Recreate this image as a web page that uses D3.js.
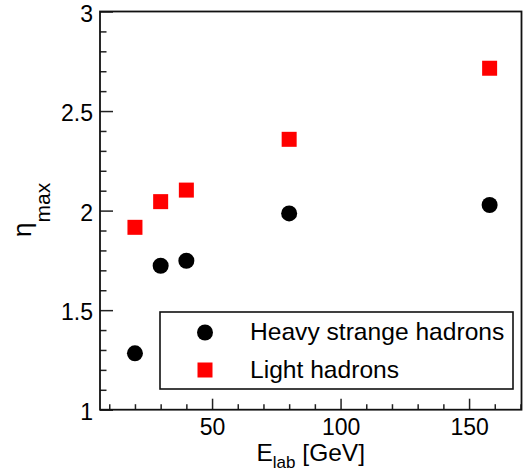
<!DOCTYPE html>
<html>
<head>
<meta charset="utf-8">
<script src="https://cdn.jsdelivr.net/npm/d3@7"></script>
<style>
  body { margin: 0; background: #fff; }
  svg { display: block; }
  text { font-family: "Liberation Sans", Arial, Helvetica, sans-serif; fill: #000; }
</style>
</head>
<body>
<svg id="chart" width="526" height="472"></svg>
<script>
// Beam energies (GeV) and the maximum rapidity for each hadron group
const energies = [20, 30, 40, 80, 158];
const heavyStrange = [1.283, 1.723, 1.748, 1.986, 2.028];
const lightHadrons = [1.916, 2.045, 2.103, 2.358, 2.715];

const seriesNames = ["Heavy strange hadrons", "Light hadrons"];

const xMajorTicks = [50, 100, 150];
const xMajorLabels = ["50", "100", "150"];
const xMinorTicks = [10, 20, 30, 40, 60, 70, 80, 90, 110, 120, 130, 140, 160, 170];

const yMajorTicks = [1, 1.5, 2, 2.5, 3];
const yMajorLabels = ["1", "1.5", "2", "2.5", "3"];
const yMinorTicks = [1.1, 1.2, 1.3, 1.4, 1.6, 1.7, 1.8, 1.9, 2.1, 2.2, 2.3, 2.4, 2.6, 2.7, 2.8, 2.9];

const svg = d3.select("#chart");

const frame = { left: 100, top: 11.5, right: 521.5, bottom: 409.7 };

const x = d3.scaleLinear().domain([6.4, 170.4]).range([frame.left, frame.right]);
const y = d3.scaleLinear().domain([1, 3]).range([frame.bottom, frame.top]);

const tickFont = 23;

// ---- x axis: minor ticks, then major ticks with labels
svg.append("g")
  .attr("transform", `translate(0,${frame.bottom})`)
  .call(d3.axisBottom(x).tickValues(xMinorTicks).tickSize(-5.5).tickFormat(""))
  .call(g => g.select(".domain").remove())
  .call(g => g.selectAll("line").attr("stroke", "#222").attr("stroke-width", 1.5));

svg.append("g")
  .attr("transform", `translate(0,${frame.bottom})`)
  .call(d3.axisBottom(x).tickValues(xMajorTicks).tickSize(-11).tickPadding(9)
    .tickFormat((d, i) => xMajorLabels[i]))
  .call(g => g.select(".domain").remove())
  .call(g => g.selectAll("line").attr("stroke", "#222").attr("stroke-width", 1.5))
  .call(g => g.selectAll("text").attr("font-size", tickFont)
    .attr("font-family", "'Liberation Sans', Arial, sans-serif").attr("fill", "#000"));

// ---- y axis: minor ticks, then major ticks with labels
svg.append("g")
  .attr("transform", `translate(${frame.left},0)`)
  .call(d3.axisLeft(y).tickValues(yMinorTicks).tickSize(-6.5).tickFormat(""))
  .call(g => g.select(".domain").remove())
  .call(g => g.selectAll("line").attr("stroke", "#222").attr("stroke-width", 1.5));

svg.append("g")
  .attr("transform", `translate(${frame.left},0)`)
  .call(d3.axisLeft(y).tickValues(yMajorTicks).tickSize(-13).tickPadding(7)
    .tickFormat((d, i) => yMajorLabels[i]))
  .call(g => g.select(".domain").remove())
  .call(g => g.selectAll("line").attr("stroke", "#222").attr("stroke-width", 1.5))
  .call(g => g.selectAll("text").attr("font-size", tickFont).attr("dy", "0.42em")
    .attr("font-family", "'Liberation Sans', Arial, sans-serif").attr("fill", "#000"));

// ---- plot frame
svg.append("rect")
  .attr("x", frame.left).attr("y", frame.top)
  .attr("width", frame.right - frame.left)
  .attr("height", frame.bottom - frame.top)
  .attr("fill", "none").attr("stroke", "#111").attr("stroke-width", 1.8);

// ---- axis titles
const xTitle = svg.append("text")
  .attr("x", 256.5).attr("y", 461)
  .attr("font-size", 24.5);
xTitle.append("tspan").text("E");
xTitle.append("tspan").attr("font-size", 17).attr("dy", 7).text("lab");
xTitle.append("tspan").attr("dy", -7).text(" [GeV]");

const yTitle = svg.append("text")
  .attr("transform", "translate(31,237) rotate(-90)")
  .attr("font-size", 26);
yTitle.append("tspan").text("η");
yTitle.append("tspan").attr("font-size", 21).attr("dy", 19).text("max");

// ---- data markers
const pts = energies.map((e, i) => ({ e, heavy: heavyStrange[i], light: lightHadrons[i] }));
const sq = 15;

svg.append("g").selectAll("rect")
  .data(pts).join("rect")
  .attr("x", d => x(d.e) - sq / 2)
  .attr("y", d => y(d.light) - sq / 2)
  .attr("width", sq).attr("height", sq)
  .attr("fill", "#ff0000");

svg.append("g").selectAll("circle")
  .data(pts).join("circle")
  .attr("cx", d => x(d.e))
  .attr("cy", d => y(d.heavy))
  .attr("r", 8)
  .attr("fill", "#000");

// ---- legend
const legend = svg.append("g");
legend.append("rect")
  .attr("x", 160).attr("y", 312).attr("width", 353).attr("height", 77)
  .attr("fill", "#fff").attr("stroke", "#111").attr("stroke-width", 1.6);

legend.append("circle").attr("cx", 205).attr("cy", 332.5).attr("r", 8).attr("fill", "#000");
legend.append("rect").attr("x", 205 - sq / 2).attr("y", 370 - sq / 2)
  .attr("width", sq).attr("height", sq).attr("fill", "#ff0000");

legend.append("text").attr("x", 250).attr("y", 340).attr("font-size", 24.6).text(seriesNames[0]);
legend.append("text").attr("x", 250).attr("y", 378).attr("font-size", 24.6).text(seriesNames[1]);
</script>
</body>
</html>
